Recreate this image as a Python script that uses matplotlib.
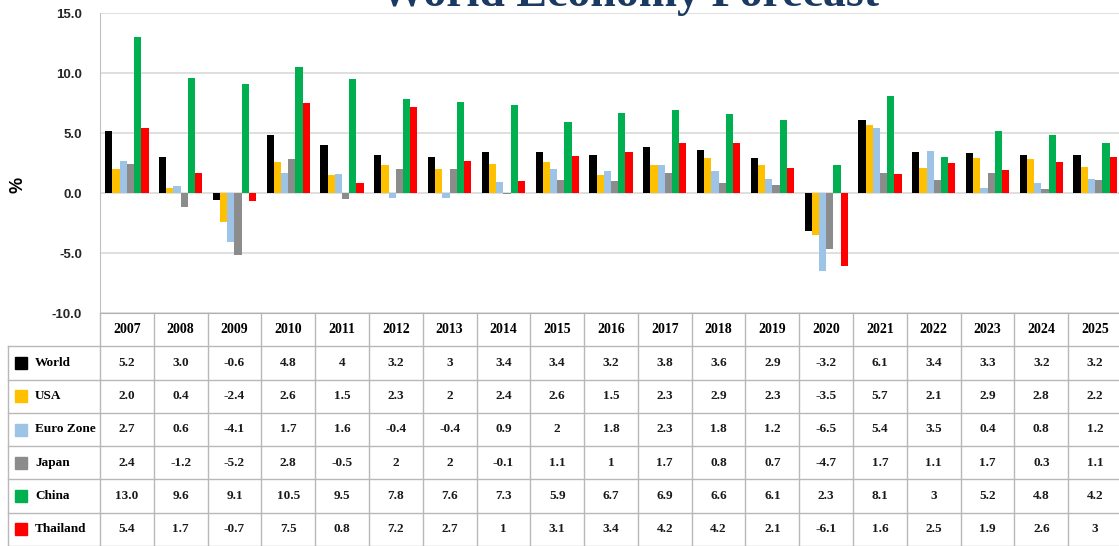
import numpy as np
import matplotlib
matplotlib.use('Agg')
import matplotlib.pyplot as plt
from matplotlib.patches import Rectangle

years = ["2007", "2008", "2009", "2010", "2011", "2012", "2013", "2014", "2015", "2016",
         "2017", "2018", "2019", "2020", "2021", "2022", "2023", "2024", "2025"]

# values kept as written in the source table (int where it shows no decimal)
world    = [5.2, 3.0, -0.6, 4.8, 4, 3.2, 3, 3.4, 3.4, 3.2, 3.8, 3.6, 2.9, -3.2, 6.1, 3.4, 3.3, 3.2, 3.2]
usa      = [2.0, 0.4, -2.4, 2.6, 1.5, 2.3, 2, 2.4, 2.6, 1.5, 2.3, 2.9, 2.3, -3.5, 5.7, 2.1, 2.9, 2.8, 2.2]
eurozone = [2.7, 0.6, -4.1, 1.7, 1.6, -0.4, -0.4, 0.9, 2, 1.8, 2.3, 1.8, 1.2, -6.5, 5.4, 3.5, 0.4, 0.8, 1.2]
japan    = [2.4, -1.2, -5.2, 2.8, -0.5, 2, 2, -0.1, 1.1, 1, 1.7, 0.8, 0.7, -4.7, 1.7, 1.1, 1.7, 0.3, 1.1]
china    = [13.0, 9.6, 9.1, 10.5, 9.5, 7.8, 7.6, 7.3, 5.9, 6.7, 6.9, 6.6, 6.1, 2.3, 8.1, 3, 5.2, 4.8, 4.2]
thailand = [5.4, 1.7, -0.7, 7.5, 0.8, 7.2, 2.7, 1, 3.1, 3.4, 4.2, 4.2, 2.1, -6.1, 1.6, 2.5, 1.9, 2.6, 3]

names  = ["World", "USA", "Euro Zone", "Japan", "China", "Thailand"]
series = [world, usa, eurozone, japan, china, thailand]
colors = ["#000000", "#ffc000", "#9dc3e6", "#8c8c8c", "#00b050", "#ff0000"]

W, H = 1119, 546
fig = plt.figure(figsize=(W / 100, H / 100), dpi=100)

# ---- bar chart ----
ax = fig.add_axes([100 / W, (H - 313) / H, 1022 / W, 300 / H])
x = np.arange(len(years))
bw = 0.134
for i, (vals, c) in enumerate(zip(series, colors)):
    ax.bar(x + (i - 2.5) * bw, vals, width=bw, color=c, zorder=3)

ax.set_xlim(-0.5, len(years) - 0.5)
ax.set_ylim(-10, 15)
ax.set_yticks(np.arange(-10, 16, 5))
ax.set_yticklabels([f"{v:.1f}" for v in np.arange(-10, 16, 5)],
                   family="Liberation Sans", fontweight="bold", fontsize=9.5, color="#262626")
ax.tick_params(axis="y", length=0, pad=13)
ax.set_xticks([])
ax.grid(axis="y", color="#d9d9d9", linewidth=1.2, zorder=0)
for s in ["top", "right"]:
    ax.spines[s].set_visible(False)
ax.spines["left"].set_color("#c0c0c0")
ax.spines["bottom"].set_color("#b0b0b0")

fig.text(18 / W, (H - 185) / H, "%", rotation=90, ha="center", va="center",
         fontsize=13, fontweight="bold", family="Liberation Sans")
fig.text(630 / W, (H - 6) / H, "World Economy Forecast", ha="center", va="baseline",
         fontsize=33, fontweight="bold", family="Liberation Serif", color="#1b3a63")

# ---- data table under the chart ----
tax = fig.add_axes([0, 0, 1122 / W, 233 / H])
tax.set_xlim(0, 1122)
tax.set_ylim(233, 0)
tax.axis("off")
colw = 1022 / len(years)
rowh = 233 / 7
lc = "#b8b8b8"

for k in range(1, 8):
    tax.plot([8 if k >= 1 else 100, 1122], [k * rowh, k * rowh], color=lc, lw=1, clip_on=False)
for k in range(len(years) + 1):
    tax.plot([100 + k * colw] * 2, [0, 7 * rowh], color=lc, lw=1, clip_on=False)
tax.plot([8, 8], [rowh, 7 * rowh], color=lc, lw=1)

tfont = dict(family="Liberation Serif", fontweight="bold", ha="center", va="center")
for j, yr in enumerate(years):
    tax.text(100 + (j + 0.5) * colw, 0.5 * rowh, yr, fontsize=10, **tfont)

for i, (name, vals, c) in enumerate(zip(names, series, colors)):
    yc = (i + 1.5) * rowh
    tax.add_patch(Rectangle((15, yc - 6), 12, 12, color=c))
    tax.text(35, yc, name, fontsize=9.5, family="Liberation Serif", fontweight="bold",
             ha="left", va="center")
    for j, v in enumerate(vals):
        tax.text(100 + (j + 0.5) * colw, yc, str(v), fontsize=9.5, color="#1a1a1a", **tfont)

fig.savefig("out.png", dpi=100)
